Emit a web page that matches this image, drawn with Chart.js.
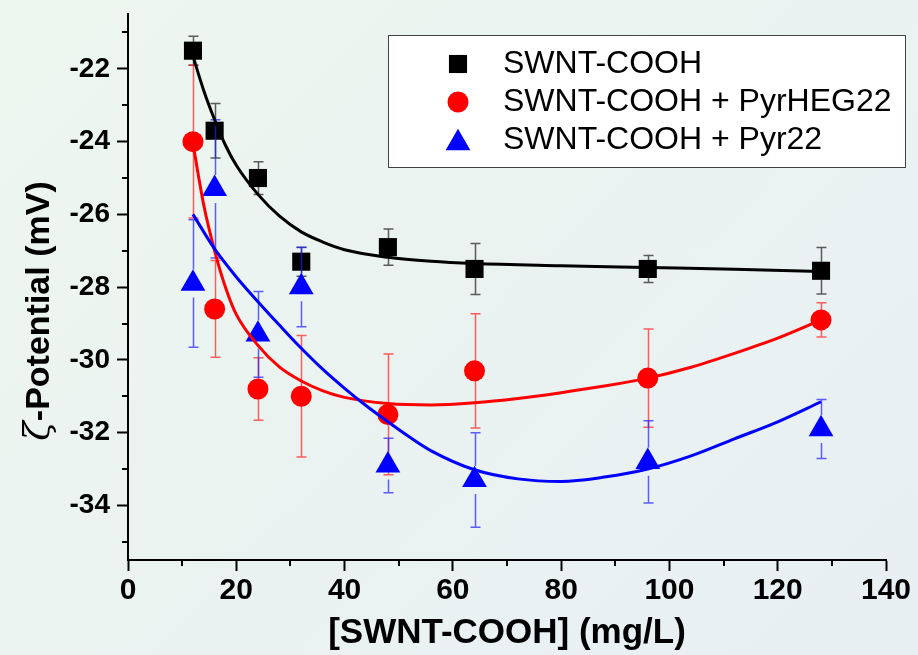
<!DOCTYPE html>
<html>
<head>
<meta charset="utf-8">
<script src="https://cdn.jsdelivr.net/npm/chart.js@4/dist/chart.umd.min.js"></script>
<style>
  html, body { margin: 0; padding: 0; }
  body {
    width: 918px; height: 655px; overflow: hidden;
    background: linear-gradient(135deg, #eef6f0 0%, #ebf3f1 45%, #e7eff3 100%);
  }
  #c { display: block; }
</style>
</head>
<body>
<canvas id="c" width="918" height="655"></canvas>
<script>
// SWNT-COOH concentrations (mg/L)
const concentrations = [12, 16, 24, 32, 48, 64, 96, 128];

// Measured zeta potentials (mV) and their error bars
const zetaBare      = [-21.5, -23.7, -25.0, -27.3, -26.9, -27.5, -27.5, -27.55];
const errBare       = [0.4, 0.75, 0.45, 0.4, 0.5, 0.7, 0.37, 0.64];
const zetaPyrHEG22  = [-24.0, -28.6, -30.8, -31.0, -31.5, -30.3, -30.5, -28.9];
const errPyrHEG22   = [2.1, 1.33, 0.86, 1.67, 1.66, 1.57, 1.35, 0.47];
const zetaPyr22     = [-27.9, -25.3, -29.3, -28.0, -32.9, -33.3, -32.8, -31.9];
const errPyr22      = [1.75, 1.9, 1.18, 1.09, 0.75, 1.3, 1.13, 0.81];

// Fitted trend curves
const fitBareX  = [12, 14, 16, 18, 20, 24, 28, 32, 36, 40, 48, 56, 64, 80, 96, 112, 128];
const fitBareY  = [-21.65, -22.6, -23.4, -24.1, -24.65, -25.45, -26.05, -26.48, -26.76, -26.97,
                   -27.18, -27.29, -27.35, -27.41, -27.46, -27.51, -27.57];
const fitHegX   = [12, 14, 16, 18, 20, 24, 28, 32, 36, 40, 48, 56, 64, 72, 80, 88, 96, 104, 112, 120, 128];
const fitHegY   = [-24.05, -25.75, -27.0, -28.0, -28.75, -29.6, -30.2, -30.58, -30.85, -31.03, -31.2,
                   -31.24, -31.18, -31.06, -30.9, -30.72, -30.5, -30.2, -29.82, -29.4, -28.9];
const fitPyrX   = [12, 16, 20, 24, 28, 32, 36, 40, 44, 48, 52, 56, 64, 72, 80, 88, 96, 104, 112, 120, 128];
const fitPyrY   = [-26.0, -26.95, -27.72, -28.4, -29.05, -29.68, -30.26, -30.78, -31.26, -31.7, -32.12,
                   -32.5, -33.02, -33.27, -33.34, -33.22, -33.0, -32.64, -32.17, -31.7, -31.15];

// Axis ticks
const xTicks = [0, 20, 40, 60, 80, 100, 120, 140];
const xMinorTicks = [10, 30, 50, 70, 90, 110, 130];
const yTicks = [-34, -32, -30, -28, -26, -24, -22];
const yMinorTicks = [-35, -33, -31, -29, -27, -25, -23, -21];

const seriesNames = ['SWNT-COOH', 'SWNT-COOH + PyrHEG22', 'SWNT-COOH + Pyr22'];
const xTitle = '[SWNT-COOH] (mg/L)';
const yTitleSymbol = '\u03B6';
const yTitleRest = '-Potential (mV)';

const pts = (xs, ys) => xs.map((x, i) => ({ x, y: ys[i] }));

// Draws a marker shape centred on (x, y)
function marker(ctx, style, r, x, y) {
  ctx.beginPath();
  if (style === 'rect') {
    const s = r * Math.SQRT1_2;
    ctx.rect(x - s, y - s, 2 * s, 2 * s);
  } else if (style === 'circle') {
    ctx.arc(x, y, r, 0, Math.PI * 2);
  } else if (style === 'triangle') {
    for (let k = 0; k < 3; k++) {
      const a = k * 2 * Math.PI / 3;
      const px = x + Math.sin(a) * r, py = y - Math.cos(a) * r;
      k ? ctx.lineTo(px, py) : ctx.moveTo(px, py);
    }
    ctx.closePath();
  }
  ctx.fill();
}

// Vertical error bars with caps, drawn just before each scatter series
const errorBars = {
  id: 'errorBars',
  beforeDatasetDraw(chart, args) {
    const ds = chart.data.datasets[args.index];
    if (!ds.errors) return;
    const xs = chart.scales.x, ys = chart.scales.y, ctx = chart.ctx;
    ctx.save();
    ctx.strokeStyle = ds.errorColor;
    ctx.lineWidth = 1.5;
    ds.data.forEach((p, i) => {
      const e = ds.errors[i];
      const px = Math.round(xs.getPixelForValue(p.x)) + 0.5;
      const py = ys.getPixelForValue(p.y);
      const top = ys.getPixelForValue(p.y + e);
      const bot = ys.getPixelForValue(p.y - e);
      const gap = ds.errorGap;
      ctx.beginPath();
      if (top < py - gap) { ctx.moveTo(px, py - gap); ctx.lineTo(px, top); }
      if (bot > py + gap) { ctx.moveTo(px, py + gap); ctx.lineTo(px, bot); }
      ctx.moveTo(px - 5, top); ctx.lineTo(px + 5, top);
      ctx.moveTo(px - 5, bot); ctx.lineTo(px + 5, bot);
      ctx.stroke();
    });
    ctx.restore();
  }
};

// Minor tick marks on both axes
const minorTicks = {
  id: 'minorTicks',
  afterDraw(chart) {
    const { ctx, chartArea: a, scales: { x, y } } = chart;
    ctx.save();
    ctx.strokeStyle = '#000';
    ctx.lineWidth = 2;
    ctx.beginPath();
    xMinorTicks.forEach(v => {
      const px = Math.round(x.getPixelForValue(v));
      ctx.moveTo(px, a.bottom); ctx.lineTo(px, a.bottom + 6);
    });
    yMinorTicks.forEach(v => {
      const py = Math.round(y.getPixelForValue(v));
      ctx.moveTo(a.left, py); ctx.lineTo(a.left - 6, py);
    });
    ctx.stroke();
    ctx.restore();
  }
};

// Rotated y-axis title with an italic zeta symbol
const yAxisTitle = {
  id: 'yAxisTitle',
  afterDraw(chart, args, opts) {
    const ctx = chart.ctx;
    const symFont = 'italic 36px "DejaVu Serif", "Liberation Serif", serif';
    const restFont = 'bold 34px "Liberation Sans", Arial, sans-serif';
    ctx.save();
    ctx.font = symFont;
    const w1 = ctx.measureText(yTitleSymbol).width;
    ctx.font = restFont;
    const w2 = ctx.measureText(yTitleRest).width;
    ctx.translate(opts.x, opts.y);
    ctx.rotate(-Math.PI / 2);
    ctx.fillStyle = '#000';
    ctx.textBaseline = 'alphabetic';
    ctx.textAlign = 'left';
    const start = -(w1 + w2) / 2;
    ctx.font = symFont;
    ctx.fillText(yTitleSymbol, start, 0);
    ctx.font = restFont;
    ctx.fillText(yTitleRest, start + w1, 0);
    ctx.restore();
  }
};

// Boxed legend inside the plot
const boxLegend = {
  id: 'boxLegend',
  afterDraw(chart, args, opts) {
    const ctx = chart.ctx;
    ctx.save();
    ctx.fillStyle = '#ffffff';
    ctx.fillRect(opts.left, opts.top, opts.width, opts.height);
    ctx.strokeStyle = '#444';
    ctx.lineWidth = 1;
    ctx.strokeRect(opts.left + 0.5, opts.top + 0.5, opts.width, opts.height);
    ctx.font = opts.font;
    ctx.textBaseline = 'middle';
    ctx.textAlign = 'left';
    chart.data.datasets.filter(d => d.errors).forEach((ds, i) => {
      const cy = opts.top + opts.firstRow + i * opts.rowGap;
      ctx.fillStyle = ds.backgroundColor;
      marker(ctx, ds.pointStyle, ds.pointRadius, opts.left + opts.markerX, cy - (ds.pointStyle === 'triangle' ? -3 : 0));
      ctx.fillStyle = '#000';
      ctx.fillText(ds.label, opts.left + opts.textX, cy);
    });
    ctx.restore();
  }
};

// Scatter markers are drawn with the same shape routine as the legend
const scatterSet = (label, ys, errs, color, errColor, style, radius, gap, order) => ({
  label, data: pts(concentrations, ys), errors: errs, errorColor: errColor, errorGap: gap,
  backgroundColor: color, borderColor: color, borderWidth: 0,
  pointStyle: style, pointRadius: radius, pointHoverRadius: radius,
  showLine: false, order, clip: false
});
const fitSet = (xs, ys, color, order) => ({
  label: '', data: pts(xs, ys), showLine: true, borderColor: color, borderWidth: 3,
  pointRadius: 0, pointHoverRadius: 0, cubicInterpolationMode: 'monotone', fill: false, order
});

new Chart(document.getElementById('c'), {
  type: 'scatter',
  data: {
    datasets: [
      scatterSet(seriesNames[0], zetaBare, errBare, '#000000', 'rgba(40,40,40,0.75)', 'rect', 12.8, 9, 6),
      scatterSet(seriesNames[1], zetaPyrHEG22, errPyrHEG22, '#ff0000', 'rgba(255,30,30,0.7)', 'circle', 10.5, 10, 5),
      scatterSet(seriesNames[2], zetaPyr22, errPyr22, '#0000ff', 'rgba(30,30,255,0.7)', 'triangle', 14.3, 14, 4),
      fitSet(fitBareX, fitBareY, '#000000', 3),
      fitSet(fitHegX, fitHegY, '#ff0000', 2),
      fitSet(fitPyrX, fitPyrY, '#0000ff', 1)
    ]
  },
  options: {
    responsive: false,
    devicePixelRatio: 1,
    animation: false,
    events: [],
    layout: { padding: { left: 0, top: 13, right: 32, bottom: 0 } },
    plugins: {
      legend: { display: false },
      tooltip: { enabled: false },
      yAxisTitle: { x: 49, y: 311 },
      boxLegend: {
        left: 388, top: 35, width: 517, height: 132,
        markerX: 70, textX: 115, firstRow: 29, rowGap: 38,
        font: '32px "Liberation Sans", Arial, sans-serif'
      }
    },
    scales: {
      x: {
        type: 'linear', min: 0, max: 140,
        afterBuildTicks: s => { s.ticks = xTicks.map(v => ({ value: v })); },
        afterFit: s => { s.height = 95; s.paddingLeft = 0; s.paddingRight = 0; },
        border: { display: true, color: '#000', width: 2 },
        grid: { drawOnChartArea: false, drawTicks: true, tickLength: 11, tickWidth: 2, tickColor: '#000' },
        ticks: {
          color: '#000', padding: 2, maxRotation: 0, autoSkip: false,
          font: { family: '"Liberation Sans", Arial, sans-serif', size: 30, weight: 'bold' }
        },
        title: {
          display: true, text: xTitle, color: '#000',
          font: { family: '"Liberation Sans", Arial, sans-serif', size: 35, weight: 'bold', lineHeight: 1.2 },
          padding: { top: 0, bottom: 1 }
        }
      },
      y: {
        type: 'linear', min: -35.5, max: -20.5,
        afterBuildTicks: s => { s.ticks = yTicks.map(v => ({ value: v })); },
        afterFit: s => { s.width = 128; s.paddingTop = 0; s.paddingBottom = 0; },
        border: { display: true, color: '#000', width: 2 },
        grid: { drawOnChartArea: false, drawTicks: true, tickLength: 11, tickWidth: 2, tickColor: '#000' },
        ticks: {
          color: '#000', padding: 7, autoSkip: false,
          font: { family: '"Liberation Sans", Arial, sans-serif', size: 28, weight: 'bold' }
        }
      }
    }
  },
  plugins: [errorBars, minorTicks, yAxisTitle, boxLegend]
});
</script>
</body>
</html>
